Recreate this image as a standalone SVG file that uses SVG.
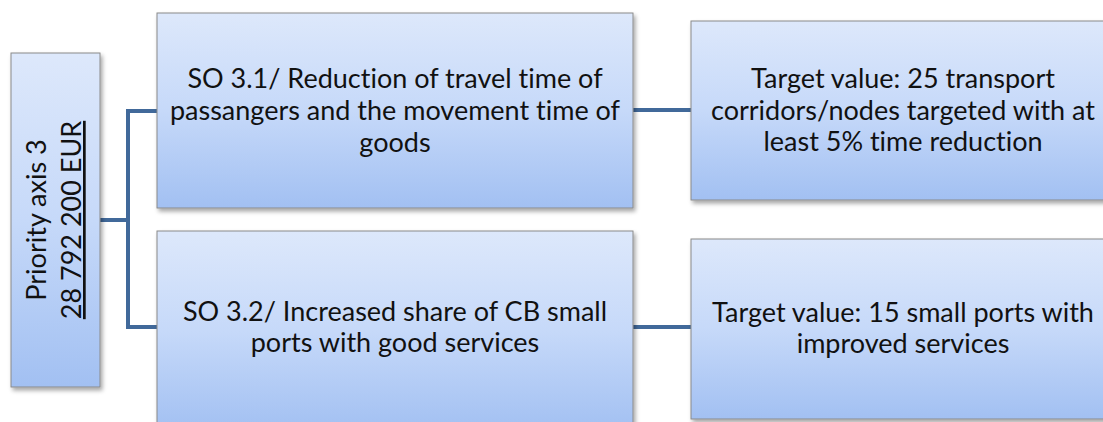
<svg xmlns="http://www.w3.org/2000/svg" width="1103" height="422" viewBox="0 0 1103 422">
<style>
.box{fill:url(#g);stroke:#8a8a8a;stroke-width:1;filter:url(#sh)}
.t{font-family:Lato,"Open Sans",sans-serif;font-size:27px;fill:#111;text-anchor:middle;font-variant-ligatures:none}
.c{fill:none;stroke:#41699a;stroke-width:4}
</style>
<defs>
<linearGradient id="g" x1="0" y1="0" x2="0" y2="1">
<stop offset="0" stop-color="#dde8fb"/>
<stop offset="0.5" stop-color="#c6d9f9"/>
<stop offset="1" stop-color="#a2c0f2"/>
</linearGradient>
<filter id="sh" x="-10%" y="-10%" width="130%" height="130%">
<feDropShadow dx="2" dy="3" stdDeviation="2" flood-color="#000" flood-opacity="0.35"/>
</filter>
</defs>
<g id="connectors">
<path class="c" d="M100 220 H128 M128 111 V327 M126 111 H157 M126 327 H157"/>
<path class="c" d="M633 110 H691"/>
<path class="c" d="M633 327 H691"/>
</g>
<g id="priority">
<rect class="box" x="11" y="53" width="89" height="334"/>
<text class="t" transform="translate(46,220) rotate(-90)">Priority axis 3</text>
<text class="t" transform="translate(81,220) rotate(-90)" text-decoration="underline">28 792 200 EUR</text>
</g>
<g id="so31">
<rect class="box" x="157" y="13" width="476" height="195"/>
<text class="t" x="395" y="88">SO 3.1/ Reduction of travel time of</text>
<text class="t" x="395" y="120">passangers and the movement time of</text>
<text class="t" x="395" y="152">goods</text>
</g>
<g id="target1">
<rect class="box" x="691" y="21" width="424" height="179"/>
<text class="t" x="903" y="88">Target value: 25 transport</text>
<text class="t" x="903" y="120">corridors/nodes targeted with at</text>
<text class="t" x="903" y="151">least 5% time reduction</text>
</g>
<g id="so32">
<rect class="box" x="157" y="231" width="476" height="200"/>
<text class="t" x="395" y="321">SO 3.2/ Increased share of CB small</text>
<text class="t" x="395" y="352">ports with good services</text>
</g>
<g id="target2">
<rect class="box" x="691" y="239" width="424" height="180"/>
<text class="t" x="903" y="322">Target value: 15 small ports with</text>
<text class="t" x="903" y="353">improved services</text>
</g>
</svg>
